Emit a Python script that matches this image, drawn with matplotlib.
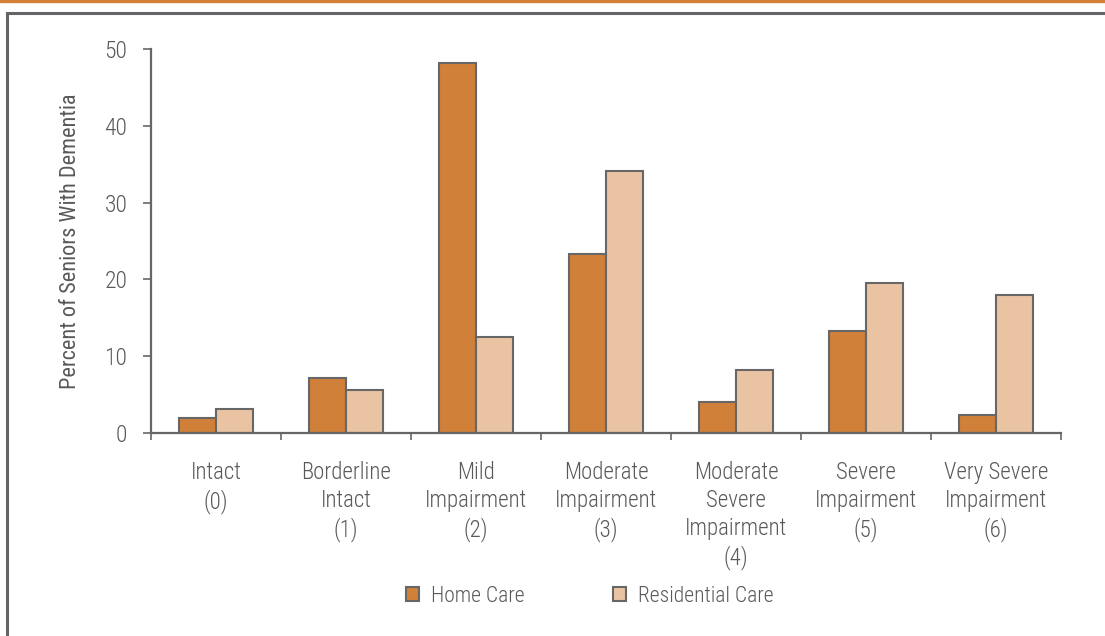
import matplotlib
matplotlib.use("Agg")
import matplotlib.pyplot as plt
from matplotlib.lines import Line2D
from matplotlib.patches import Patch
import numpy as np

categories = ["Intact\n(0)", "Borderline\nIntact\n(1)", "Mild\nImpairment\n(2)",
              "Moderate\nImpairment\n(3)", "Moderate\nSevere\nImpairment\n(4)",
              "Severe\nImpairment\n(5)", "Very Severe\nImpairment\n(6)"]
home_care = [2.0, 7.1, 48.2, 23.3, 4.1, 13.3, 2.3]
residential_care = [3.1, 5.6, 12.5, 34.1, 8.2, 19.5, 18.0]
series_names = ["Home Care", "Residential Care"]
y_ticks = [0, 10, 20, 30, 40, 50]

plt.rcParams['font.family'] = ['Roboto Condensed', 'DejaVu Sans']
plt.rcParams['font.stretch'] = 'condensed'
plt.rcParams['font.weight'] = 'light'
TEXT = "#595959"
EDGE = "#676767"
C_HOME = "#D08038"
C_RES = "#EAC3A3"

W, H = 1105, 636
fig = plt.figure(figsize=(W / 100, H / 100), dpi=100)

def fx(px):
    return px / W

def fy(py):
    return 1 - py / H

# frame decorations
fig.add_artist(Line2D([0, 1], [fy(1), fy(1)], color="#D08038", lw=2.4, transform=fig.transFigure))
fig.add_artist(Line2D([fx(7), fx(7), 1], [0, fy(13), fy(13)], color="#646469", lw=2.2,
                      transform=fig.transFigure, solid_joinstyle="miter"))

ax = fig.add_axes([fx(151), fy(433), fx(1061) - fx(151), fy(49) - fy(433)])

n = len(categories)
x = np.arange(n)
bw = 0.285
ax.bar(x - bw / 2, home_care, bw, color=C_HOME, edgecolor=EDGE, linewidth=1.5, label=series_names[0])
ax.bar(x + bw / 2, residential_care, bw, color=C_RES, edgecolor=EDGE, linewidth=1.5, label=series_names[1])

ax.set_xlim(-0.5, n - 0.5)
ax.set_ylim(0, 50)
for s in ["top", "right"]:
    ax.spines[s].set_visible(False)
for s in ["left", "bottom"]:
    ax.spines[s].set_color(EDGE)
    ax.spines[s].set_linewidth(1.6)

ax.set_yticks(y_ticks)
ax.tick_params(axis="y", direction="out", length=6, width=1.2, color=EDGE,
               labelsize=17, labelcolor=TEXT, pad=11)
ax.set_xticks(x)
ax.set_xticklabels(categories, fontsize=16.5, color=TEXT, linespacing=1.28)
ax.tick_params(axis="x", which="major", length=0, pad=20)
ax.set_xticks(np.arange(n + 1) - 0.5, minor=True)
ax.tick_params(axis="x", which="minor", direction="out", length=5, width=1.2, color=EDGE)

ax.set_ylabel("Percent of Seniors With Dementia", fontsize=16, color=TEXT)
ax.yaxis.set_label_coords((81 - 151) / 910, 0.5)

handles = [Patch(facecolor=C_HOME, edgecolor=EDGE, linewidth=1.5),
           Patch(facecolor=C_RES, edgecolor=EDGE, linewidth=1.5)]
fig.legend(handles, series_names, loc="center", bbox_to_anchor=(fx(590), fy(596)),
           ncol=2, frameon=False, fontsize=15.5, labelcolor=TEXT,
           handlelength=0.6, handleheight=0.6, handletextpad=0.55, columnspacing=4.1)

fig.savefig("out.png", dpi=100)
